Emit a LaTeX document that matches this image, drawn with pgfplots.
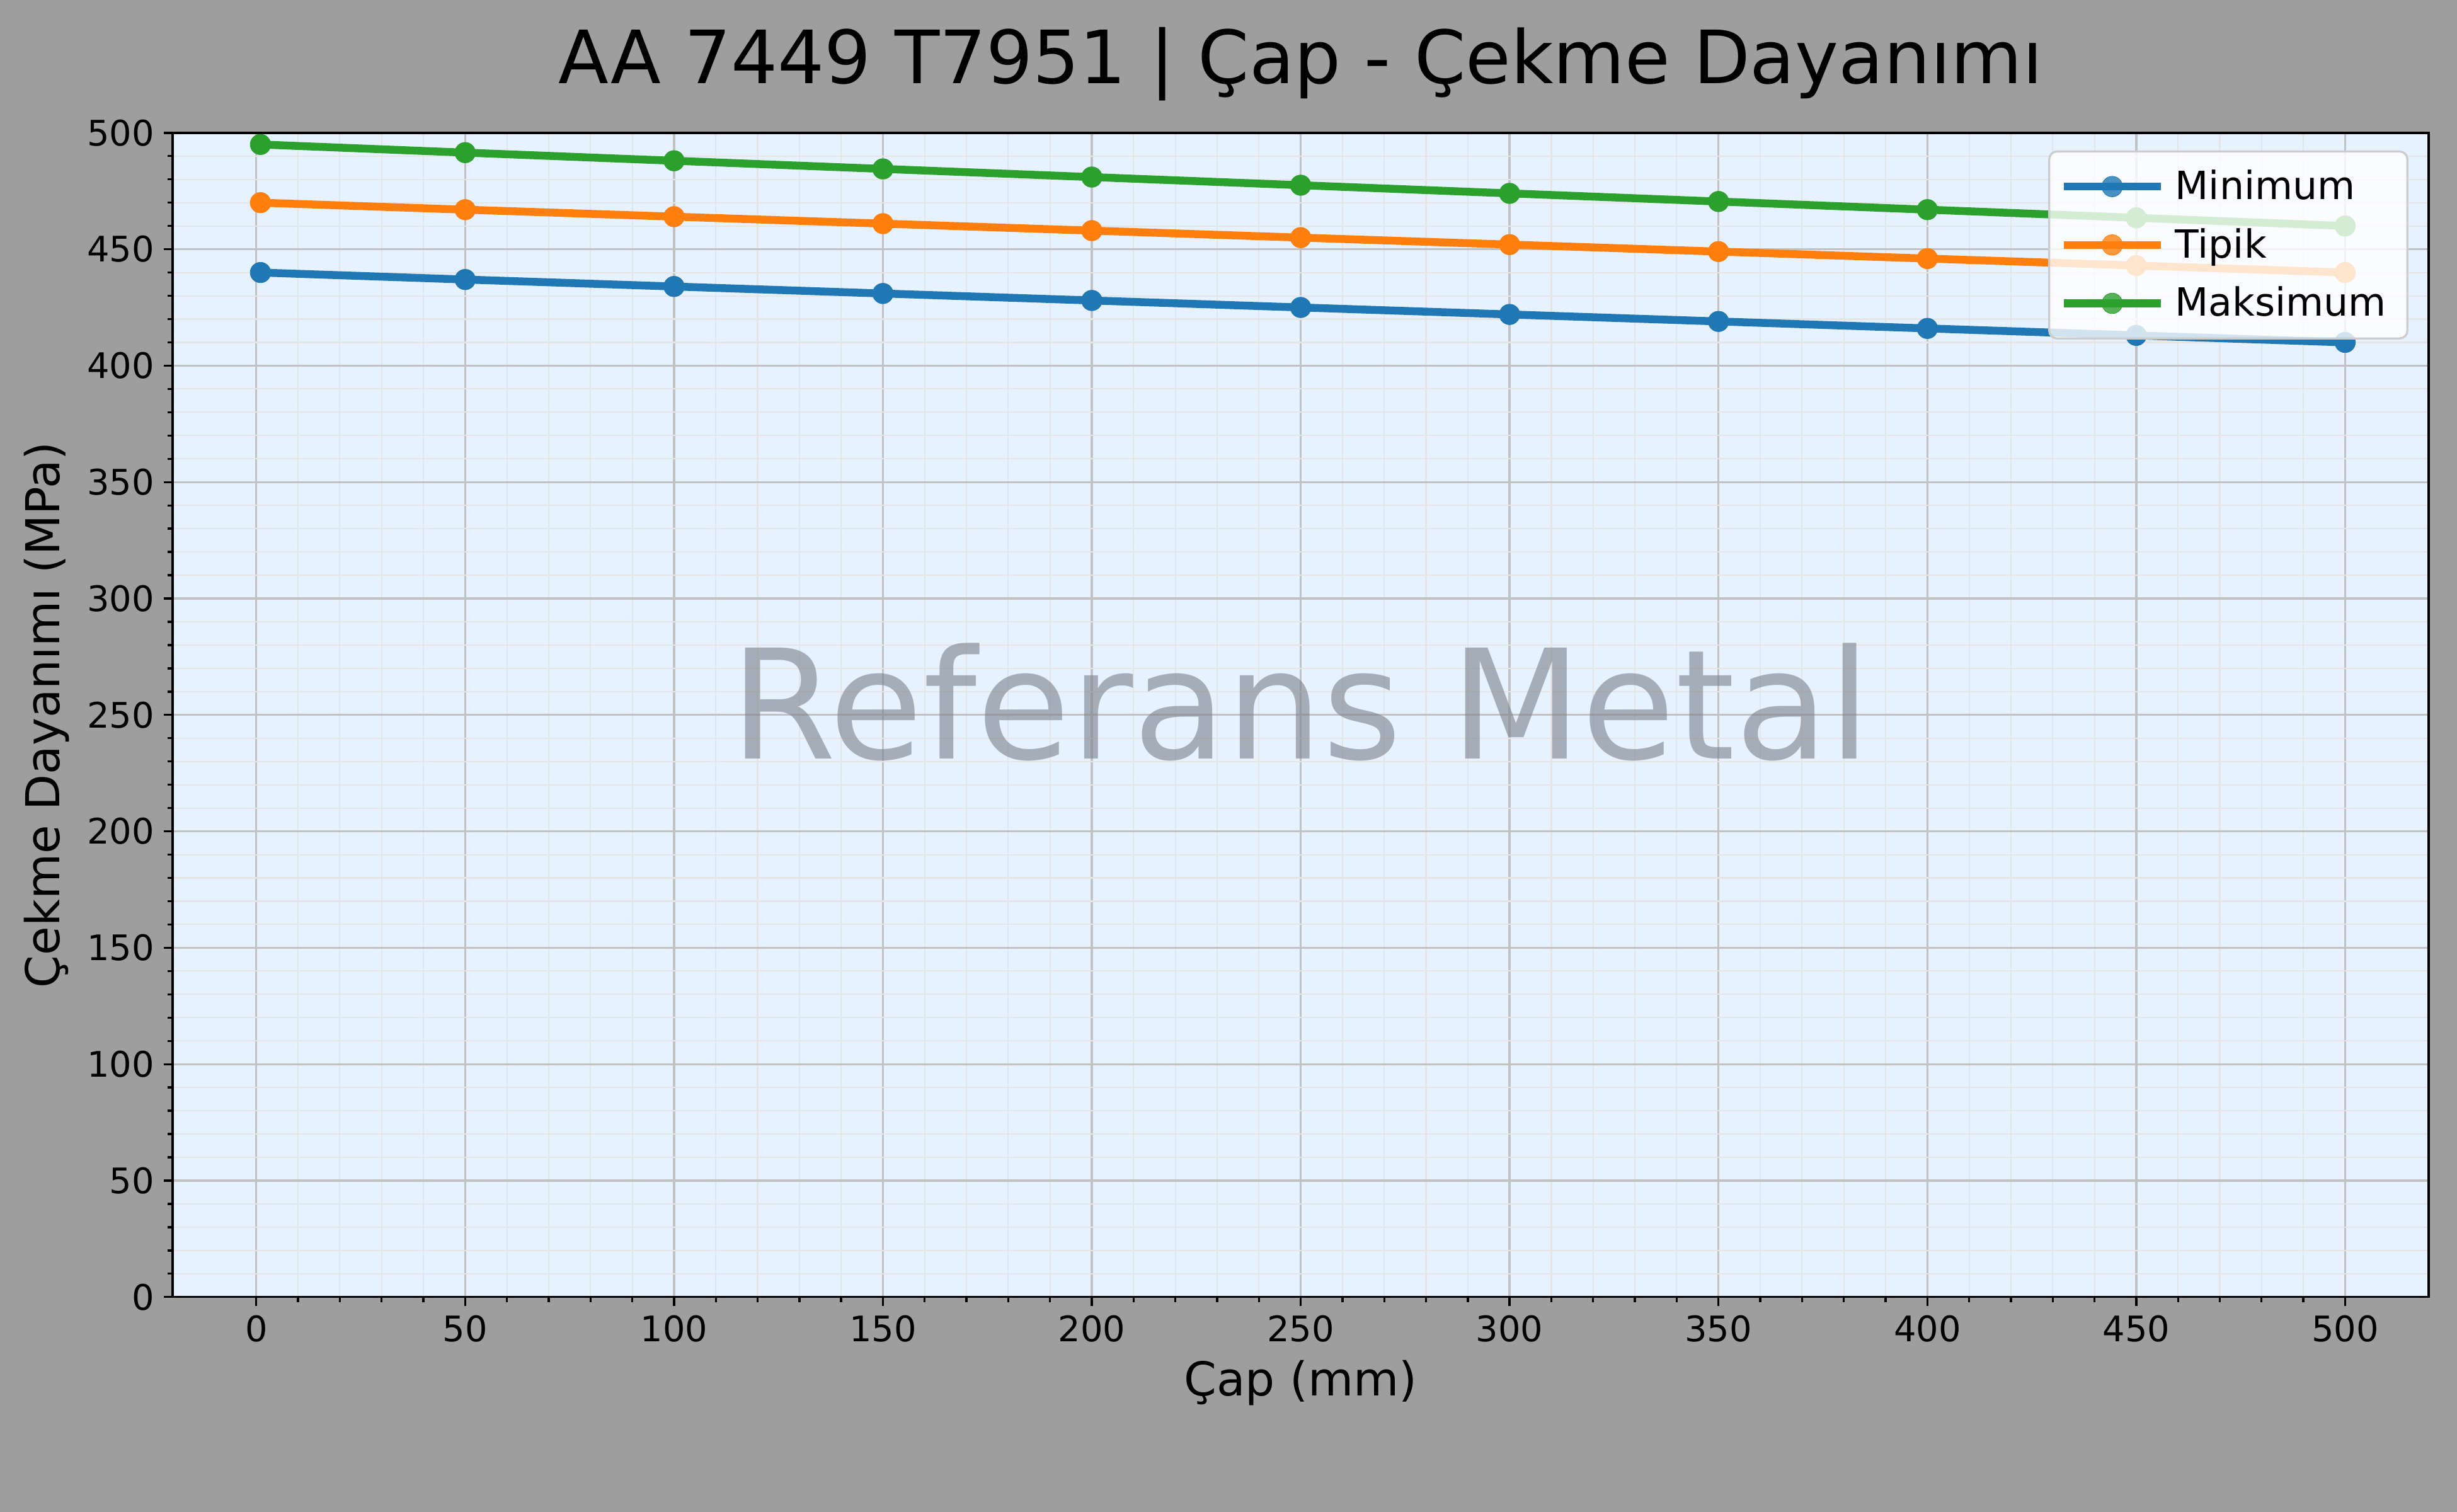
\documentclass[border=0pt]{standalone}
\usepackage{pgfplots}
\pgfplotsset{compat=1.18}
\usepackage{pgfplotstable}
\usepackage{fontspec}
\setmainfont{DejaVu Sans}

\definecolor{figbg}{RGB}{158,158,158}
\definecolor{axbg}{RGB}{230,242,255}
\definecolor{wmark}{RGB}{123,129,137}
\definecolor{tabblue}{HTML}{1F77B4}
\definecolor{taborange}{HTML}{FF7F0E}
\definecolor{tabgreen}{HTML}{2CA02C}

% Cap (mm) vs cekme dayanimi (MPa)
\pgfplotstableread{
cap  minimum tipik maksimum
1    440     470   495
50   437     467   491.5
100  434     464   488
150  431     461   484.5
200  428     458   481
250  425     455   477.5
300  422     452   474
350  419     449   470.5
400  416     446   467
450  413     443   463.5
500  410     440   460
}\cekme

\begin{document}
\begin{tikzpicture}
\fill[figbg] (-65.8pt,-81.8pt) rectangle (870.2pt,494.1pt);
\begin{axis}[
    scale only axis,
    width=859.4pt, height=443.5pt,
    xmin=-20, xmax=520, ymin=0, ymax=500,
    xtick={0,50,...,500}, ytick={0,50,...,500},
    minor x tick num=4, minor y tick num=4,
    tick align=outside, xtick pos=left, ytick pos=left,
    major tick length=3.5pt, minor tick length=2pt,
    tick style={black, line width=0.8pt},
    axis line style={black, line width=0.8pt},
    axis background/.style={fill=axbg},
    grid=both,
    major grid style={color=black!24, line width=0.8pt},
    minor grid style={color=black!10, line width=0.5pt},
    ticklabel style={font=\fontsize{13.4}{16}\selectfont},
    /pgf/number format/assume math mode=true,
    title={AA 7449 T7951 | Çap - Çekme Dayanımı},
    title style={at={(axis description cs:0.5,1)}, anchor=center, yshift=20.2pt,
        font=\fontsize{28}{32}\selectfont},
    xlabel={Çap (mm)},
    xlabel style={at={(axis description cs:0.5,0)}, anchor=center, yshift=-32.8pt,
        font=\fontsize{17.8}{20}\selectfont},
    ylabel={Çekme Dayanımı (MPa)},
    ylabel style={at={(axis description cs:0,0.5)}, anchor=center, yshift=48pt,
        font=\fontsize{17.8}{20}\selectfont},
    every axis plot/.append style={line width=3pt, mark=*, mark size=3.9pt,
        mark options={solid, line width=0.2pt}},
    legend image code/.code={\draw[mark repeat=2, mark phase=2]
        plot coordinates {(0pt,0pt) (18.5pt,0pt) (37pt,0pt)};},
    legend cell align=left,
    legend style={at={(rel axis cs:1,1)}, anchor=north east,
        xshift=-7.7pt, yshift=-6.7pt,
        fill=white, fill opacity=0.8, text opacity=1,
        draw=black!20, line width=0.8pt, rounded corners=3pt,
        font=\fontsize{14.8}{17}\selectfont,
        row sep=5.5pt, inner xsep=4pt, inner ysep=5pt,
        nodes={inner xsep=4pt}},
]
\node[text=wmark, text opacity=0.6, font=\fontsize{58}{64}\selectfont]
    at (rel axis cs:0.5,0.5) [yshift=4.8pt] {Referans Metal};
\addplot[color=tabblue] table[x=cap, y=minimum] {\cekme};
\addlegendentry{Minimum}
\addplot[color=taborange] table[x=cap, y=tipik] {\cekme};
\addlegendentry{Tipik}
\addplot[color=tabgreen] table[x=cap, y=maksimum] {\cekme};
\addlegendentry{Maksimum}
\end{axis}
\pgfresetboundingbox
\path (-65.8pt,-81.8pt) rectangle (870.2pt,494.1pt);
\end{tikzpicture}
\end{document}
